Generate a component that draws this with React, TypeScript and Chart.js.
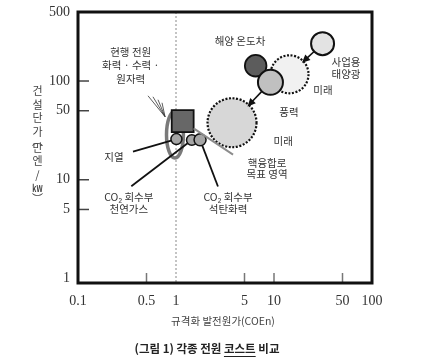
import React, { useEffect, useRef } from 'react';
import { Chart, registerables } from 'chart.js';

Chart.register(...registerables);

// ---------------- data ----------------
const xTickValues = [0.1, 0.5, 1, 5, 10, 50, 100];
const yTickValues = [1, 5, 10, 50, 100, 500];

// power sources: normalised generation cost (COEn) and construction cost (만엔/kW)
const sourceKeys = ['current', 'geothermal', 'gasCCS', 'coalCCS', 'otec', 'wind', 'windFuture', 'solar', 'fusion'];
const sourceNames = ['현행 전원', '지열', 'CO₂ 회수부 천연가스', 'CO₂ 회수부 석탄화력', '해양 온도차', '풍력', '풍력 미래', '사업용 태양광', '핵융합로 목표 영역'];
const sourceCoe = [1.17, 1.01, 1.45, 1.76, 6.5, 9.2, 14.4, 31.3, 3.73];
const sourceCapex = [39.2, 25.8, 25.3, 25.4, 143, 97, 117, 239, 37.8];

// range of current sources (ellipse)
const currentRangeCoe = [0.8, 1.19];
const currentRangeCapex = [16.6, 49.4];

// future paths (arrows)
const arrowFromKeys = ['solar', 'wind'];
const arrowToKeys = ['windFuture', 'fusion'];

// text annotations (anchored in data units)
const labelLines = [
  ['현행 전원', '화력 · 수력 ·', '원자력'],
  ['지열'],
  ['CO₂ 회수부', '천연가스'],
  ['CO₂ 회수부', '석탄화력'],
  ['해양 온도차'],
  ['사업용', '태양광'],
  ['미래'],
  ['풍력'],
  ['미래'],
  ['핵융합로', '목표 영역'],
];
const labelCoe = [0.345, 0.233, 0.33, 3.4, 4.5, 54.3, 31.6, 14.2, 12.4, 8.5];
const labelCapex = [197, 17.1, 6.75, 6.75, 255, 156, 81.5, 48.9, 24.9, 14.9];

// leader lines: start (data units) -> mark
const leaderFromCoe = [0.364, 0.35, 2.68, 3.82];
const leaderFromCapex = [19.3, 8.6, 8.54, 17.97];
const leaderToKeys = ['geothermal', 'gasCCS', 'coalCCS', 'current'];

// fan of thin lines from the "현행 전원" label to the range ellipse
const fanFromCoe = [0.518, 0.582, 0.655, 0.72];
const fanFromCapex = [70.8, 69.2, 64.6, 60.2];
const fanToCoe = [0.773, 0.773, 0.773, 0.773];
const fanToCapex = [43.5, 43.5, 43.5, 43.5];

// ---------------- styles ----------------
const markStyle: Record<string, any> = {
  current: { shape: 'rect', r: 15.5, fill: '#676767', border: '#111', bw: 1.8 },
  geothermal: { shape: 'circle', r: 5.5, fill: '#a5a5a5', border: '#111', bw: 1.5 },
  gasCCS: { shape: 'circle', r: 5.3, fill: '#a5a5a5', border: '#111', bw: 1.5 },
  coalCCS: { shape: 'circle', r: 6, fill: '#a5a5a5', border: '#111', bw: 1.5 },
  otec: { shape: 'circle', r: 10.8, fill: '#5c5c5c', border: '#111', bw: 1.8 },
  wind: { shape: 'circle', r: 12.5, fill: '#c0c0c0', border: '#111', bw: 2 },
  windFuture: { shape: 'circle', r: 19, fill: '#f1f1f1', border: '#111', bw: 2.2, dotted: true },
  solar: { shape: 'circle', r: 11.5, fill: '#e3e3e3', border: '#111', bw: 2 },
  fusion: { shape: 'circle', r: 24.5, fill: '#d7d7d7', border: '#111', bw: 2.2, dotted: true },
};
const drawOrder = ['fusion', 'windFuture', 'solar', 'otec', 'wind', 'current', 'geothermal', 'gasCCS', 'coalCCS'];
const labelLineHeight = [13.5, 0, 12, 12, 0, 12, 0, 0, 0, 11.5];

const KR = '"Noto Sans CJK KR", "Noto Sans", sans-serif';
const SERIF = '"Liberation Serif", "DejaVu Serif", serif';

function pix(chart: any, xv: number, yv: number): [number, number] {
  return [chart.scales.x.getPixelForValue(xv), chart.scales.y.getPixelForValue(yv)];
}

function markGeom(chart: any, key: string) {
  const i = sourceKeys.indexOf(key);
  const [cx, cy] = pix(chart, sourceCoe[i], sourceCapex[i]);
  const st = markStyle[key];
  return { cx, cy, r: st.r, shape: st.shape };
}

function boundaryPoint(g: any, tx: number, ty: number, inset = 0): [number, number] {
  const dx = tx - g.cx;
  const dy = ty - g.cy;
  const len = Math.hypot(dx, dy) || 1;
  const ux = dx / len;
  const uy = dy / len;
  let t;
  if (g.shape === 'rect') {
    const half = g.r * Math.SQRT1_2;
    t = half / Math.max(Math.abs(ux), Math.abs(uy));
  } else {
    t = g.r;
  }
  t -= inset;
  return [g.cx + ux * t, g.cy + uy * t];
}

const dottedPlugin = {
  id: 'dottedBorders',
  beforeDatasetDraw(chart: any, args: any) {
    const ds = chart.data.datasets[args.index];
    if (ds.dotted) {
      chart.ctx.save();
      chart.ctx.setLineDash([2, 1.6]);
    }
  },
  afterDatasetDraw(chart: any, args: any) {
    const ds = chart.data.datasets[args.index];
    if (ds.dotted) chart.ctx.restore();
  },
};

const overlayPlugin = {
  id: 'overlay',
  beforeDatasetsDraw(chart: any) {
    const ctx = chart.ctx;
    const { top, bottom } = chart.chartArea;
    // dashed guide at COEn = 1
    const x1 = chart.scales.x.getPixelForValue(1);
    ctx.save();
    ctx.strokeStyle = '#8a8a8a';
    ctx.lineWidth = 1;
    ctx.setLineDash([2, 2]);
    ctx.beginPath();
    ctx.moveTo(x1, top);
    ctx.lineTo(x1, bottom);
    ctx.stroke();
    ctx.restore();

    // range ellipse of current sources
    const [ex1, ey1] = pix(chart, currentRangeCoe[0], currentRangeCapex[1]);
    const [ex2, ey2] = pix(chart, currentRangeCoe[1], currentRangeCapex[0]);
    ctx.save();
    ctx.strokeStyle = '#7a7a7a';
    ctx.lineWidth = 3.5;
    ctx.beginPath();
    ctx.ellipse((ex1 + ex2) / 2, (ey1 + ey2) / 2, (ex2 - ex1) / 2, (ey2 - ey1) / 2, 0, 0, Math.PI * 2);
    ctx.stroke();
    ctx.restore();
  },
  afterDatasetsDraw(chart: any) {
    const ctx = chart.ctx;
    const { left, right, top, bottom } = chart.chartArea;
    ctx.save();

    // leader lines
    leaderToKeys.forEach((key, i) => {
      const [sx, sy] = pix(chart, leaderFromCoe[i], leaderFromCapex[i]);
      const g = markGeom(chart, key);
      const [ex, ey] = boundaryPoint(g, sx, sy);
      ctx.strokeStyle = key === 'current' ? '#8c8c8c' : '#111';
      ctx.lineWidth = key === 'current' ? 2 : 1.8;
      ctx.beginPath();
      ctx.moveTo(sx, sy);
      ctx.lineTo(ex, ey);
      ctx.stroke();
    });

    // fan lines
    ctx.strokeStyle = '#333';
    ctx.lineWidth = 0.8;
    fanFromCoe.forEach((_, i) => {
      const [sx, sy] = pix(chart, fanFromCoe[i], fanFromCapex[i]);
      const [ex, ey] = pix(chart, fanToCoe[i], fanToCapex[i]);
      ctx.beginPath();
      ctx.moveTo(sx, sy);
      ctx.lineTo(ex, ey);
      ctx.stroke();
    });

    // arrows
    arrowFromKeys.forEach((fk, i) => {
      const a = markGeom(chart, fk);
      const b = markGeom(chart, arrowToKeys[i]);
      const [sx, sy] = boundaryPoint(a, b.cx, b.cy);
      const [ex, ey] = boundaryPoint(b, a.cx, a.cy, 2);
      const ang = Math.atan2(ey - sy, ex - sx);
      const hl = 8;
      const hw = 3.8;
      ctx.strokeStyle = '#111';
      ctx.fillStyle = '#111';
      ctx.lineWidth = 1.6;
      ctx.beginPath();
      ctx.moveTo(sx, sy);
      ctx.lineTo(ex - Math.cos(ang) * hl * 0.8, ey - Math.sin(ang) * hl * 0.8);
      ctx.stroke();
      ctx.beginPath();
      ctx.moveTo(ex, ey);
      ctx.lineTo(ex - Math.cos(ang) * hl - Math.sin(ang) * hw, ey - Math.sin(ang) * hl + Math.cos(ang) * hw);
      ctx.lineTo(ex - Math.cos(ang) * hl + Math.sin(ang) * hw, ey - Math.sin(ang) * hl - Math.cos(ang) * hw);
      ctx.closePath();
      ctx.fill();
    });

    // inner tick marks
    ctx.lineWidth = 1.5;
    ctx.strokeStyle = '#444';
    yTickValues.forEach((v) => {
      if (v === 1 || v === 500) return;
      const y = chart.scales.y.getPixelForValue(v);
      ctx.beginPath();
      ctx.moveTo(left, y);
      ctx.lineTo(left + 11, y);
      ctx.stroke();
    });
    ctx.strokeStyle = '#777';
    xTickValues.forEach((v) => {
      if (v === 0.1 || v === 1 || v === 100) return;
      const x = chart.scales.x.getPixelForValue(v);
      ctx.beginPath();
      ctx.moveTo(x, bottom);
      ctx.lineTo(x, bottom - 10);
      ctx.stroke();
    });

    // frame
    ctx.strokeStyle = '#111';
    ctx.lineWidth = 3;
    ctx.strokeRect(left, top, right - left, bottom - top);
    ctx.restore();
  },
  afterDraw(chart: any) {
    const ctx = chart.ctx;
    ctx.save();
    ctx.textAlign = 'center';
    ctx.textBaseline = 'middle';
    ctx.fillStyle = '#333';
    ctx.font = `10.5px ${KR}`;
    labelLines.forEach((lines, i) => {
      const [x, y] = pix(chart, labelCoe[i], labelCapex[i]);
      lines.forEach((t, j) => ctx.fillText(t, x, y + j * labelLineHeight[i]));
    });

    // y-axis title (vertical, stacked)
    const yChars = ['건', '설', '단', '가', '︵', '만', '엔', '/', 'kW', '︶'];
    const yPos = [91, 104.5, 118, 131.5, 141, 147.5, 161, 175, 189, 199];
    ctx.fillStyle = '#444';
    yChars.forEach((c, i) => {
      if (c === 'kW') {
        ctx.save();
        ctx.translate(37.5, yPos[i]);
        ctx.scale(0.75, 1);
        ctx.font = `bold 9px ${KR}`;
        ctx.fillText(c, 0, 0);
        ctx.restore();
      } else {
        ctx.font = `11px ${KR}`;
        ctx.fillText(c, 37.5, yPos[i]);
      }
    });

    // x-axis title
    ctx.font = `10.5px ${KR}`;
    ctx.fillStyle = '#444';
    ctx.fillText('규격화 발전원가(COEn)', 223, 321);

    // caption
    ctx.font = `bold 11.5px ${KR}`;
    ctx.fillStyle = '#222';
    const cap = '(그림 1) 각종 전원 코스트 비교';
    const w = ctx.measureText(cap).width;
    const cx0 = 207 - w / 2;
    ctx.textAlign = 'left';
    ctx.fillText(cap, cx0, 349);
    const pre = ctx.measureText('(그림 1) 각종 전원 ').width;
    const uw = ctx.measureText('코스트').width;
    ctx.strokeStyle = '#222';
    ctx.lineWidth = 1;
    ctx.beginPath();
    ctx.moveTo(cx0 + pre, 356.5);
    ctx.lineTo(cx0 + pre + uw, 356.5);
    ctx.stroke();
    ctx.restore();
  },
};

export default function App() {
  const ref = useRef<HTMLCanvasElement | null>(null);
  useEffect(() => {
    if (!ref.current) return;
    const datasets = drawOrder.map((key, idx) => {
      const i = sourceKeys.indexOf(key);
      const st = markStyle[key];
      return {
        label: sourceNames[i],
        data: [{ x: sourceCoe[i], y: sourceCapex[i] }],
        pointStyle: st.shape,
        pointRadius: st.r,
        pointHoverRadius: st.r,
        backgroundColor: st.fill,
        borderColor: st.border,
        borderWidth: st.bw,
        pointBorderWidth: st.bw,
        dotted: !!st.dotted,
        order: drawOrder.length - idx,
        clip: false,
      };
    });
    const chart = new Chart(ref.current, {
      type: 'scatter',
      data: { datasets } as any,
      plugins: [dottedPlugin, overlayPlugin],
      options: {
        responsive: false,
        animation: false,
        events: [],
        layout: { autoPadding: false, padding: { left: 0, top: 12, right: 54, bottom: 0 } },
        plugins: { legend: { display: false }, tooltip: { enabled: false }, title: { display: false } },
        scales: {
          x: {
            type: 'logarithmic',
            min: 0.1,
            max: 100,
            grid: { display: false, drawTicks: false },
            border: { display: false },
            afterBuildTicks: (s: any) => {
              s.ticks = xTickValues.map((v) => ({ value: v }));
            },
            afterFit: (s: any) => {
              s.height = 79;
              s.paddingLeft = 0;
              s.paddingRight = 0;
              s.paddingTop = 0;
              s.paddingBottom = 0;
            },
            ticks: {
              autoSkip: false,
              maxRotation: 0,
              padding: 10,
              color: '#333',
              font: { family: SERIF, size: 14 },
              callback: (v: any) => String(v),
            },
          },
          y: {
            type: 'logarithmic',
            min: 0.9,
            max: 500,
            grid: { display: false, drawTicks: false },
            border: { display: false },
            afterBuildTicks: (s: any) => {
              s.ticks = yTickValues.map((v) => ({ value: v }));
            },
            afterFit: (s: any) => {
              s.width = 78;
              s.paddingLeft = 0;
              s.paddingRight = 0;
              s.paddingTop = 0;
              s.paddingBottom = 0;
            },
            ticks: {
              autoSkip: false,
              padding: 8,
              color: '#333',
              font: { family: SERIF, size: 14 },
              callback: (v: any) => String(v),
            },
          },
        },
      } as any,
    });
    return () => chart.destroy();
  }, []);
  return (
    <div style={{ position: 'fixed', left: 0, top: 0, width: 426, height: 362, background: '#fff' }}>
      <canvas ref={ref} width={426} height={362} style={{ width: 426, height: 362 }} />
    </div>
  );
}
